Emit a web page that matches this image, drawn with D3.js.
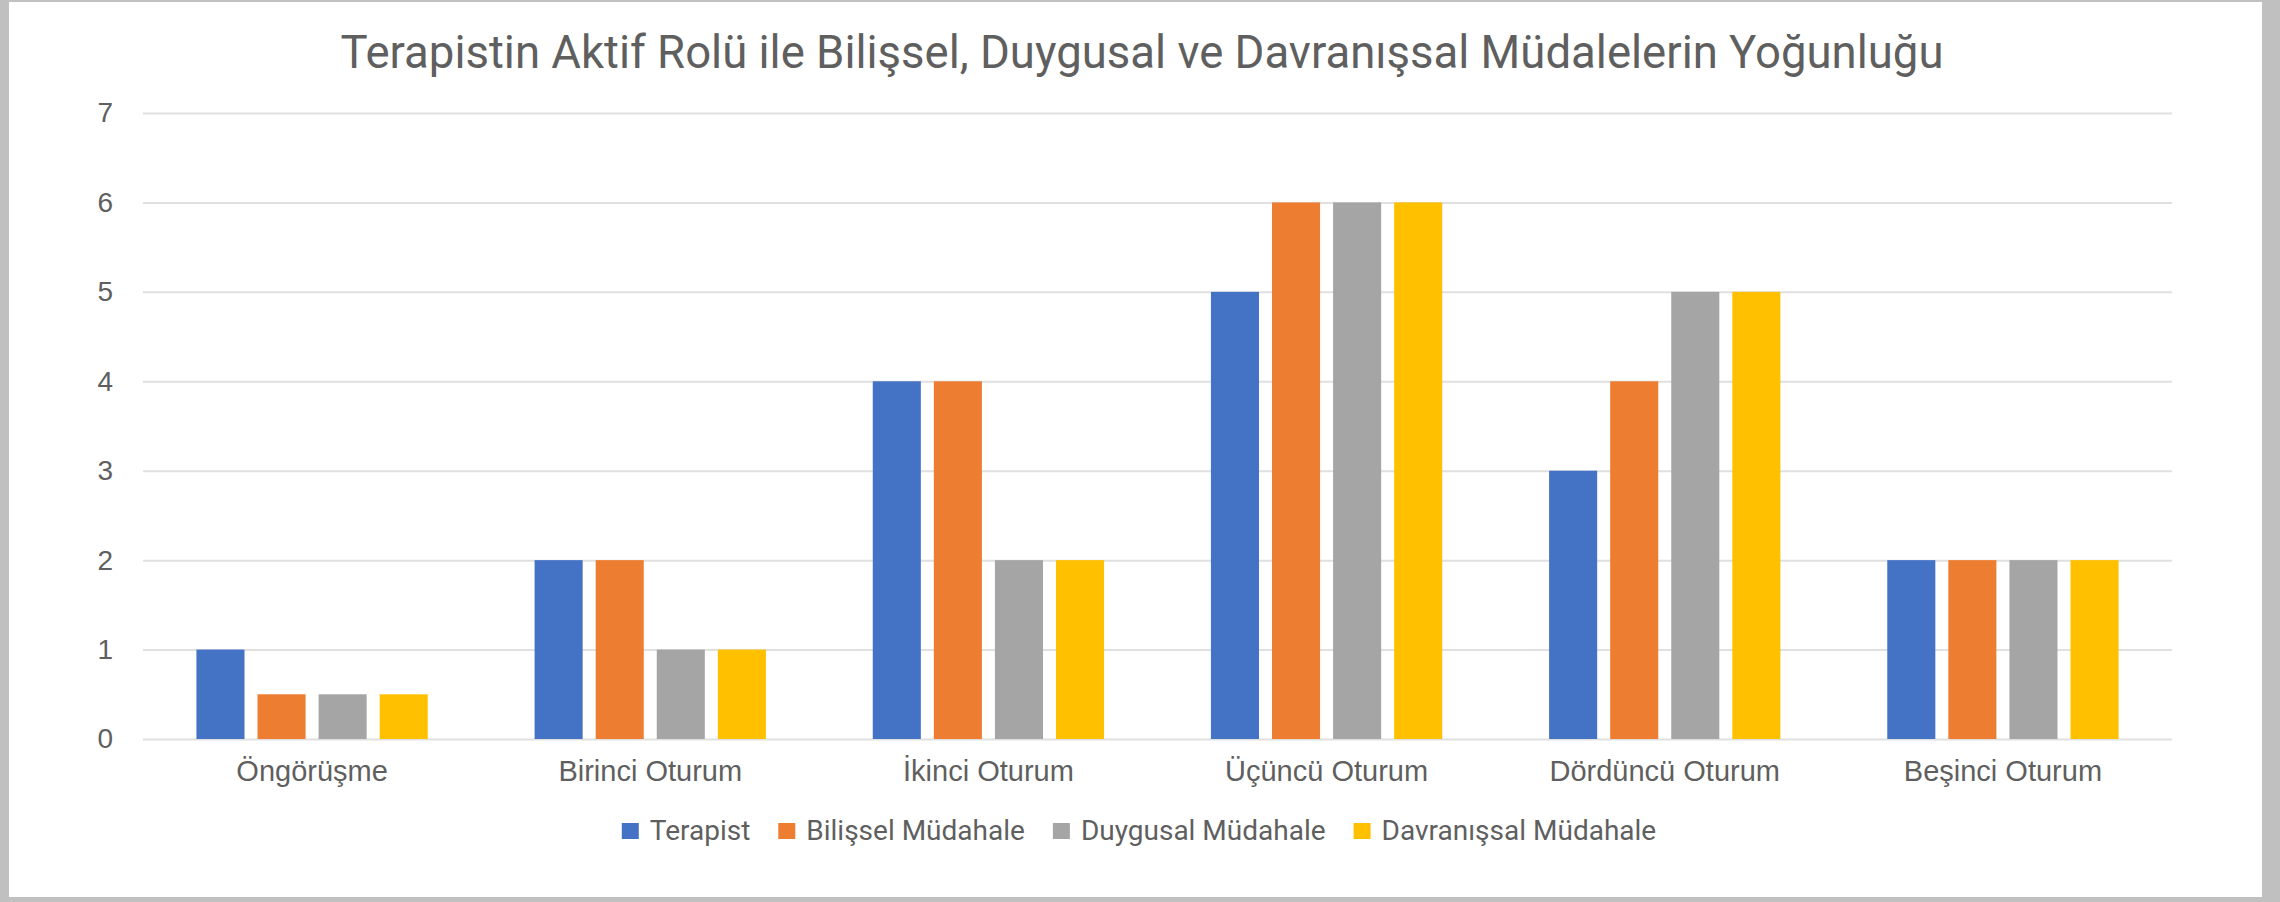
<!DOCTYPE html>
<html>
<head>
<meta charset="utf-8">
<script src="https://cdn.jsdelivr.net/npm/d3@7"></script>
<style>
  html, body { margin: 0; padding: 0; background: #fff; }
  svg { display: block; font-family: Roboto, "Noto Sans", sans-serif; }
</style>
</head>
<body>
<div id="chart"></div>
<script>
// ===== DATA =====
const title = 'Terapistin Aktif Rolü ile Bilişsel, Duygusal ve Davranışsal Müdalelerin Yoğunluğu';
const categories = ['Öngörüşme', 'Birinci Oturum', 'İkinci Oturum', 'Üçüncü Oturum', 'Dördüncü Oturum', 'Beşinci Oturum'];
const seriesNames = ['Terapist', 'Bilişsel Müdahale', 'Duygusal Müdahale', 'Davranışsal Müdahale'];
const terapist = [1, 2, 4, 5, 3, 2];
const bilissel = [0.5, 2, 4, 6, 4, 2];
const duygusal = [0.5, 1, 2, 6, 5, 2];
const davranissal = [0.5, 1, 2, 6, 5, 2];
const yTicks = [0, 1, 2, 3, 4, 5, 6, 7];
const colors = ['#4472C4', '#ED7D31', '#A5A5A5', '#FFC000'];

const seriesValues = [terapist, bilissel, duygusal, davranissal];

// ===== LAYOUT =====
const W = 2280, H = 902;
const plot = { left: 143, right: 2172, top: 113, bottom: 739 };
const textColor = '#5f5f5f';

const svg = d3.select('#chart').append('svg')
  .attr('width', W)
  .attr('height', H);

// grey frame round the chart area
svg.append('rect').attr('width', W).attr('height', H).attr('fill', '#c0c0c0');
svg.append('rect')
  .attr('x', 9).attr('y', 2)
  .attr('width', 2262 - 9).attr('height', 897 - 2)
  .attr('fill', '#ffffff');

const x0 = d3.scaleBand()
  .domain(categories)
  .range([plot.left, plot.right])
  .paddingInner(0.316)
  .paddingOuter(0.158);

const x1 = d3.scaleBand()
  .domain(seriesNames)
  .range([0, x0.bandwidth()])
  .paddingInner(0.213);

const y = d3.scaleLinear()
  .domain([0, 7])
  .range([plot.bottom, plot.top]);

// gridlines
const grid = svg.append('g')
  .attr('transform', `translate(${plot.left},0)`)
  .call(d3.axisLeft(y).tickValues(yTicks).tickSize(-(plot.right - plot.left)).tickFormat(''));
grid.select('.domain').remove();
grid.selectAll('line').attr('stroke', '#e0e0e0').attr('stroke-width', 2);

// y labels
const yAxis = svg.append('g')
  .attr('transform', `translate(${plot.left},0)`)
  .call(d3.axisLeft(y).tickValues(yTicks).tickSize(0).tickPadding(30).tickFormat(d3.format('d')));
yAxis.select('.domain').remove();
yAxis.selectAll('text')
  .attr('fill', textColor)
  .attr('font-size', 28);

// bars
const groups = svg.append('g').selectAll('g')
  .data(categories)
  .join('g')
  .attr('transform', d => `translate(${x0(d)},0)`);

groups.selectAll('rect')
  .data((d, i) => seriesNames.map((s, j) => ({ s, j, v: seriesValues[j][i] })))
  .join('rect')
  .attr('x', d => x1(d.s))
  .attr('y', d => y(d.v))
  .attr('width', x1.bandwidth())
  .attr('height', d => y(0) - y(d.v))
  .attr('fill', d => colors[d.j]);

// x labels
const xAxis = svg.append('g')
  .attr('transform', `translate(0,${plot.bottom})`)
  .call(d3.axisBottom(x0).tickSize(0).tickPadding(21));
xAxis.select('.domain').remove();
xAxis.selectAll('text')
  .attr('fill', textColor)
  .attr('font-size', 29);

// title
svg.append('text')
  .attr('x', 1142)
  .attr('y', 68)
  .attr('text-anchor', 'middle')
  .attr('font-size', 45.5)
  .attr('fill', textColor)
  .text(title);

// legend
const legend = svg.append('g');
const items = legend.selectAll('g')
  .data(seriesNames)
  .join('g');
items.append('rect')
  .attr('width', 17).attr('height', 16)
  .attr('y', -17)
  .attr('fill', (d, i) => colors[i]);
items.append('text')
  .attr('x', 28)
  .attr('font-size', 28)
  .attr('fill', textColor)
  .text(d => d);

// lay out the legend items in a centred row
let offset = 0;
const widths = [];
items.each(function () {
  widths.push(this.getBBox().width);
});
const gap = 28;
const total = d3.sum(widths) + gap * (widths.length - 1);
const start = 1139 - total / 2;
items.attr('transform', (d, i) => {
  const t = `translate(${start + offset},840)`;
  offset += widths[i] + gap;
  return t;
});
</script>
</body>
</html>
